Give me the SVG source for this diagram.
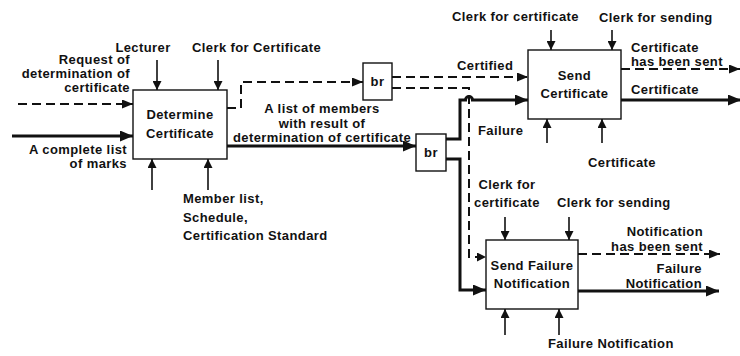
<svg xmlns="http://www.w3.org/2000/svg" width="740" height="356" viewBox="0 0 740 356">
<style>
text{font-family:"Liberation Sans",Arial,sans-serif;font-weight:bold;font-size:13px;letter-spacing:0.4px;fill:#111}
.box{fill:#fff;stroke:#111;stroke-width:1.4}
.thick{fill:none;stroke:#111;stroke-width:3}
.dash{fill:none;stroke:#111;stroke-width:2;stroke-dasharray:9 5}
.thin{fill:none;stroke:#111;stroke-width:1.6}
.e{text-anchor:end}
.m{text-anchor:middle}
</style>
<defs>
<marker id="big" markerUnits="userSpaceOnUse" markerWidth="13" markerHeight="11" refX="13" refY="5.5" orient="auto"><path d="M0,0 L13,5.5 L0,11 z" fill="#111"/></marker>
<marker id="mid" markerUnits="userSpaceOnUse" markerWidth="11" markerHeight="9" refX="11" refY="4.5" orient="auto"><path d="M0,0 L11,4.5 L0,9 z" fill="#111"/></marker>
<marker id="sm" markerUnits="userSpaceOnUse" markerWidth="9" markerHeight="9" refX="9" refY="4.5" orient="auto"><path d="M0,0 L9,4.5 L0,9 z" fill="#111"/></marker>
</defs>

<g id="connectors">
<path class="dash" d="M18,104 H133" marker-end="url(#mid)"/>
<path class="thick" d="M12,136 H133" marker-end="url(#big)"/>
<path class="thin" d="M157,60 V90" marker-end="url(#sm)"/>
<path class="thin" d="M218,60 V90" marker-end="url(#sm)"/>
<path class="thin" d="M152,190 V159" marker-end="url(#sm)"/>
<path class="thin" d="M208,190 V159" marker-end="url(#sm)"/>
<path class="dash" d="M227,108 H241 V82 H363" marker-end="url(#mid)"/>
<path class="thick" d="M227,146 H416" marker-end="url(#big)"/>
<path class="dash" d="M392,77 H528" marker-end="url(#mid)"/>
<path class="dash" d="M392,88 H469 V257 H486" marker-end="url(#sm)"/>
<path class="thick" d="M446,139 H460 V100 H465.5 A3.5,3.5 0 0 1 472.5,100 H528" marker-end="url(#big)"/>
<path class="thick" d="M446,159 H460 V290 H486" marker-end="url(#big)"/>
<path class="thin" d="M551,30 V50" marker-end="url(#sm)"/>
<path class="thin" d="M612,30 V50" marker-end="url(#sm)"/>
<path class="thin" d="M547,143 V119" marker-end="url(#sm)"/>
<path class="thin" d="M602,143 V119" marker-end="url(#sm)"/>
<path class="dash" d="M621,69 H740" marker-end="url(#mid)"/>
<path class="thick" d="M621,100 H741" marker-end="url(#big)"/>
<path class="thin" d="M505,217 V240" marker-end="url(#sm)"/>
<path class="thin" d="M569,217 V240" marker-end="url(#sm)"/>
<path class="thin" d="M505,335 V309" marker-end="url(#sm)"/>
<path class="thin" d="M559,335 V309" marker-end="url(#sm)"/>
<path class="dash" d="M578,254 H720" marker-end="url(#mid)"/>
<path class="thick" d="M578,291 H719" marker-end="url(#big)"/>
</g>

<g id="determine">
<rect class="box" x="133" y="90" width="94" height="69"/>
<text class="m" x="180" y="119">Determine</text>
<text class="m" x="180" y="138">Certificate</text>
</g>
<g id="br1">
<rect class="box" x="363" y="63" width="29" height="37"/>
<text class="m" x="377.5" y="86">br</text>
</g>
<g id="br2">
<rect class="box" x="416" y="134" width="30" height="37"/>
<text class="m" x="431" y="157">br</text>
</g>
<g id="send-certificate">
<rect class="box" x="528" y="50" width="93" height="69"/>
<text class="m" x="574.5" y="80">Send</text>
<text class="m" x="574.5" y="98">Certificate</text>
</g>
<g id="send-failure">
<rect class="box" x="486" y="240" width="92" height="69"/>
<text class="m" x="532" y="270">Send Failure</text>
<text class="m" x="532" y="288">Notification</text>
</g>

<g id="labels">
<text class="m" x="143" y="52">Lecturer</text>
<text x="192" y="52">Clerk for Certificate</text>
<text class="e" x="130" y="64">Request of</text>
<text class="e" x="130" y="78">determination of</text>
<text class="e" x="130" y="92">certificate</text>
<text class="e" x="127" y="154">A complete list</text>
<text class="e" x="127" y="168">of marks</text>
<text x="183" y="203">Member list,</text>
<text x="183" y="222">Schedule,</text>
<text x="183" y="240">Certification Standard</text>
<text class="m" x="322" y="113">A list of members</text>
<text class="m" x="322" y="128">with result of</text>
<text class="m" x="322" y="142">determination of certificate</text>
<text x="457" y="70">Certified</text>
<text x="478" y="135">Failure</text>
<text x="452" y="21">Clerk for certificate</text>
<text x="599" y="22">Clerk for sending</text>
<text x="631" y="52">Certificate</text>
<text x="631" y="66">has been sent</text>
<text x="631" y="94">Certificate</text>
<text x="588" y="167">Certificate</text>
<text class="m" x="507" y="189">Clerk for</text>
<text class="m" x="507" y="207">certificate</text>
<text x="557" y="207">Clerk for sending</text>
<text class="e" x="703" y="236">Notification</text>
<text class="e" x="703" y="251">has been sent</text>
<text class="e" x="702" y="273">Failure</text>
<text class="e" x="702" y="288">Notification</text>
<text x="548" y="348">Failure Notification</text>
</g>
</svg>
